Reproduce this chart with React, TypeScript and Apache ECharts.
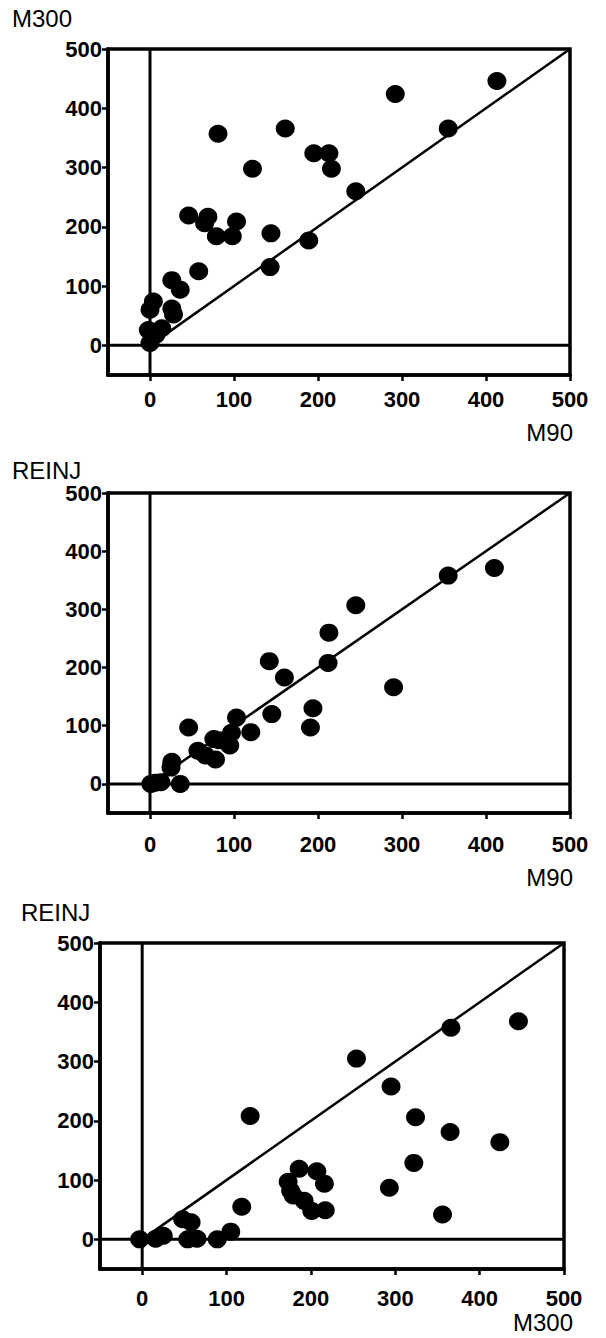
import React, { useEffect, useRef } from 'react';
import * as echarts from 'echarts';

// Tick labels shared by all three panels
const tickValues = [0, 100, 200, 300, 400, 500];

// Panel 1: M90 (x) vs M300 (y)
const p1M90 = [413, 292, 355, 81, 161, 195, 213, 216, 122, 245, 46, 69, 65, 103, 79, 98, 144, 189, 143, 58, 26, 36, 26, 28, 4, 0, -2, 14, 7, 0];
const p1M300 = [446, 424, 366, 357, 366, 324, 324, 298, 298, 260, 219, 217, 206, 209, 184, 184, 189, 177, 132, 125, 110, 94, 62, 52, 74, 60, 26, 29, 18, 4];

// Panel 2: M90 (x) vs REINJ (y)
const p2M90 = [410, 355, 245, 213, 212, 142, 160, 290, 194, 191, 145, 103, 120, 46, 76, 97, 95, 78, 57, 66, 26, 25, 36, 1, 13, 6, 82];
const p2REINJ = [371, 358, 307, 260, 208, 211, 183, 166, 130, 97, 120, 114, 89, 97, 77, 88, 66, 42, 57, 49, 38, 28, 0, 0, 3, 2, 75];

// Panel 3: M300 (x) vs REINJ (y)
const p3M300 = [446, 366, 254, 295, 324, 365, 424, 322, 293, 356, 128, 118, 186, 173, 179, 192, 201, 207, 216, 217, 48, 58, 54, 65, 89, 105, -3, 16, 25, 176];
const p3REINJ = [368, 357, 305, 258, 206, 181, 164, 129, 87, 42, 208, 55, 119, 97, 74, 65, 48, 115, 94, 49, 34, 29, 0, 1, 0, 13, 0, 1, 6, 82];

const panels = [
  { x: p1M90, y: p1M300, xName: 'M90', yName: 'M300' },
  { x: p2M90, y: p2REINJ, xName: 'M90', yName: 'REINJ' },
  { x: p3M300, y: p3REINJ, xName: 'M300', yName: 'REINJ' },
];

const layout = [
  { left: 108, top: 49, width: 462, height: 326, xMargin: 13, yTitle: [12, 18], xTitle: [573, 432] },
  { left: 108, top: 493, width: 462, height: 320, xMargin: 20, yTitle: [12, 470], xTitle: [573, 877] },
  { left: 100, top: 943, width: 464, height: 326, xMargin: 18, yTitle: [21, 912], xTitle: [573, 1322] },
];

const font = '"Liberation Sans", Arial, Helvetica, sans-serif';

export default function App() {
  const ref = useRef<HTMLDivElement>(null);
  useEffect(() => {
    const chart = echarts.init(ref.current!, null, { renderer: 'svg' });
    const grid: any[] = [];
    const xAxis: any[] = [];
    const yAxis: any[] = [];
    const series: any[] = [];
    const graphic: any[] = [];
    panels.forEach((p, i) => {
      const L = layout[i];
      grid.push({
        left: L.left, top: L.top, width: L.width, height: L.height,
        show: true, borderColor: '#000', borderWidth: 3.5, backgroundColor: 'transparent',
      });
      const common = {
        type: 'value', gridIndex: i, min: -50, max: 500,
        splitLine: { show: false },
        axisLine: { show: true, onZero: false, lineStyle: { color: '#000', width: 3.5 } },
        axisTick: { show: true, customValues: tickValues, length: 6, lineStyle: { color: '#000', width: 2.5 } },
      };
      const label = {
        customValues: tickValues, color: '#000', fontWeight: 'bold', fontSize: 22,
        fontFamily: font,
      };
      xAxis.push({ ...common, axisLabel: { ...label, margin: L.xMargin } });
      yAxis.push({ ...common, axisLabel: { ...label, margin: 6 } });
      const lineBase = { type: 'line', xAxisIndex: i, yAxisIndex: i, symbol: 'none', silent: true, z: 3 };
      series.push({ ...lineBase, data: [[-50, 0], [500, 0]], lineStyle: { color: '#000', width: 3 } });
      series.push({ ...lineBase, data: [[0, -50], [0, 500]], lineStyle: { color: '#000', width: 3 } });
      series.push({ ...lineBase, data: [[0, 0], [500, 500]], lineStyle: { color: '#000', width: 2.5 } });
      series.push({
        type: 'scatter', xAxisIndex: i, yAxisIndex: i, z: 4,
        symbol: 'circle', symbolSize: [19, 18],
        itemStyle: { color: '#000', opacity: 1 },
        data: p.x.map((v, k) => [v, p.y[k]]),
      });
      graphic.push({
        type: 'text', x: L.yTitle[0], y: L.yTitle[1],
        style: { text: p.yName, fill: '#000', font: `24px ${font}`, align: 'left', verticalAlign: 'middle' },
      });
      graphic.push({
        type: 'text', x: L.xTitle[0], y: L.xTitle[1],
        style: { text: p.xName, fill: '#000', font: `24px ${font}`, align: 'right', verticalAlign: 'middle' },
      });
    });
    chart.setOption({
      animation: false,
      backgroundColor: '#fff',
      grid, xAxis, yAxis, series, graphic,
    });
    return () => chart.dispose();
  }, []);
  return (
    <div
      ref={ref}
      style={{ position: 'absolute', left: 0, top: 0, width: 606, height: 1338, background: '#fff' }}
    />
  );
}
